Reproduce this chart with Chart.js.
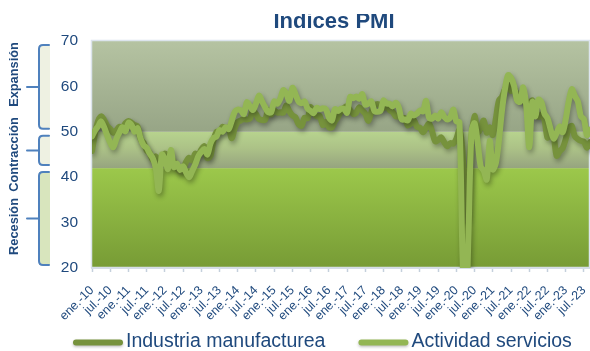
<!DOCTYPE html>
<html lang="es">
<head>
<meta charset="utf-8">
<title>Índices PMI</title>
<script src="https://cdn.jsdelivr.net/npm/chart.js@4.4.1/dist/chart.umd.min.js"></script>
<style>
  html, body { margin: 0; padding: 0; background: #fff; }
  #wrap { width: 590px; height: 351px; position: relative; }
</style>
</head>
<body>
<div id="wrap"><canvas id="pmi"></canvas></div>
<script>
// meses ene.-10 .. sep.-23
const meses = ['ene.', 'feb.', 'mar.', 'abr.', 'may.', 'jun.', 'jul.', 'ago.', 'sep.', 'oct.', 'nov.', 'dic.'];
const anios = [10, 11, 12, 13, 14, 15, 16, 17, 18, 19, 20, 21, 22, 23];
const ultimoMes = 'sep.-23';

const categorias = [];
for (const a of anios) {
  for (const m of meses) categorias.push(m + '-' + a);
}
categorias.length = categorias.indexOf(ultimoMes) + 1;

const industria = [
  45.8, 49.6, 52.4, 53.4, 52.6, 51.3, 50.6, 49.8, 50.3, 51.1, 50.8, 51.9, // 2010
  52.4, 52.0, 51.5, 51.2, 48.4, 47.6, 45.9, 45.3, 43.8, 44.6, 43.5, 43.6, // 2011
  45.2, 44.7, 44.4, 43.3, 42.1, 41.2, 41.8, 43.4, 44.3, 43.7, 45.2, 44.8, // 2012
  46.1, 46.8, 44.2, 44.7, 48.1, 50.0, 49.8, 51.1, 50.7, 50.9, 48.6, 50.8, // 2013
  52.2, 52.5, 52.8, 52.7, 52.9, 54.6, 53.9, 52.8, 52.6, 52.6, 54.7, 53.8, // 2014
  54.7, 54.2, 54.3, 54.2, 55.8, 54.5, 53.6, 53.2, 51.7, 51.3, 53.1, 53.0, // 2015
  55.4, 54.1, 53.4, 53.5, 51.5, 52.2, 51.0, 51.0, 52.3, 53.3, 54.5, 55.3, // 2016
  55.6, 54.8, 53.9, 54.2, 55.4, 54.7, 54.0, 52.4, 54.3, 55.8, 56.1, 55.8, // 2017
  55.2, 56.0, 54.8, 54.4, 53.4, 53.4, 52.9, 53.0, 51.4, 51.8, 52.6, 51.1, // 2018
  50.9, 49.9, 50.9, 51.8, 50.1, 47.9, 48.2, 48.8, 47.7, 46.8, 47.5, 47.4, // 2019
  48.5, 50.4, 45.7, 30.8, 38.3, 49.0, 53.5, 49.9, 50.8, 52.5, 49.8, 51.0, // 2020
  49.3, 52.9, 56.9, 57.7, 59.4, 60.4, 59.0, 59.5, 58.1, 57.4, 57.1, 56.2, // 2021
  56.2, 56.9, 54.2, 53.3, 53.8, 52.6, 48.7, 49.9, 49.0, 44.7, 45.7, 46.4, // 2022
  48.4, 50.7, 51.3, 49.0, 48.4, 48.0, 47.8, 46.5, 47.7                    // 2023
];

const servicios = [
  49.0, 50.3, 51.2, 52.3, 51.0, 49.2, 47.6, 46.6, 48.4, 49.8, 51.0, 50.1, // 2010
  52.0, 51.5, 50.0, 50.8, 48.5, 47.0, 46.5, 45.2, 44.2, 42.0, 37.0, 45.0, // 2011
  44.0, 41.8, 46.0, 42.2, 43.0, 41.6, 42.4, 41.0, 40.0, 41.4, 42.8, 44.6, // 2012
  45.6, 46.2, 45.0, 47.4, 48.6, 49.0, 50.4, 50.0, 51.0, 50.6, 52.4, 54.4, // 2013
  54.9, 54.7, 53.9, 56.5, 55.7, 54.8, 56.2, 58.0, 56.7, 55.4, 54.3, 54.3, // 2014
  56.7, 56.2, 57.3, 59.2, 58.4, 56.8, 59.7, 58.3, 56.7, 56.3, 56.7, 55.1, // 2015
  54.6, 54.1, 55.3, 55.0, 55.2, 55.0, 53.2, 52.5, 55.0, 54.6, 55.1, 55.0, // 2016
  54.2, 57.7, 57.4, 57.8, 57.3, 58.3, 56.0, 56.2, 56.7, 54.6, 54.4, 54.6, // 2017
  56.9, 56.2, 56.2, 55.6, 56.4, 55.4, 52.7, 52.7, 52.5, 54.0, 53.6, 54.0, // 2018
  54.7, 54.5, 56.8, 53.1, 52.9, 53.6, 52.9, 54.3, 53.3, 52.7, 53.2, 54.9, // 2019
  52.3, 52.1, 23.0, 7.1, 27.9, 50.2, 51.9, 47.7, 42.4, 41.4, 39.5, 48.0,  // 2020
  41.7, 43.1, 48.1, 54.6, 59.4, 62.5, 61.9, 60.1, 56.9, 56.6, 59.8, 55.8, // 2021
  46.6, 56.6, 53.4, 57.1, 56.5, 54.0, 53.0, 50.6, 48.5, 49.7, 51.2, 49.9, // 2022
  52.7, 56.7, 59.4, 57.9, 56.7, 53.4, 52.8, 49.3, 50.5                    // 2023
];

// franjas del fondo: recesión, contracción, expansión
const limitesZonas = [20, 42, 50, 70];
const nombresZonas = ['Recesión', 'Contracción', 'Expansión'];

const FUENTE = "'Liberation Sans', Arial, sans-serif";
const AZUL_TEXTO = '#1f497d';

const zonasPlugin = {
  id: 'zonas',
  beforeDraw(chart) {
    const { ctx, chartArea: a, scales: { y } } = chart;
    const degradados = [
      [[0, '#9cc84b'], [1, '#779b35']],
      [[0, '#b7d38e'], [0.45, '#acc287'], [1, '#96a47f']],
      [[0, '#b5c3a2'], [1, '#97a586']]
    ];
    const rellenoLlave = ['#d8e5bd', '#eef1e2', '#eef1e2'];
    const centroTexto = [226.5, 154.5, 74.5];

    ctx.save();
    for (let i = 0; i < nombresZonas.length; i++) {
      const top = y.getPixelForValue(limitesZonas[i + 1]);
      const bottom = y.getPixelForValue(limitesZonas[i]);
      const g = ctx.createLinearGradient(0, top, 0, bottom);
      degradados[i].forEach(([p, c]) => g.addColorStop(p, c));
      ctx.fillStyle = g;
      ctx.fillRect(a.left, top, a.right - a.left, bottom - top);

      // llave a la izquierda del eje
      const t = top + 4, b = bottom - 3, mid = (t + b) / 2;
      const xl = 39, xr = 49, r = 4;
      ctx.fillStyle = rellenoLlave[i];
      ctx.fillRect(xl, t, xr - xl + 1, b - t);
      ctx.beginPath();
      ctx.moveTo(xr, t);
      ctx.lineTo(xl + r, t);
      ctx.quadraticCurveTo(xl, t, xl, t + r);
      ctx.lineTo(xl, b - r);
      ctx.quadraticCurveTo(xl, b, xl + r, b);
      ctx.lineTo(xr, b);
      ctx.moveTo(xl, mid);
      ctx.lineTo(27, mid);
      ctx.strokeStyle = '#4f81bd';
      ctx.lineWidth = 2;
      ctx.lineCap = 'round';
      ctx.stroke();

      ctx.save();
      ctx.translate(14, centroTexto[i]);
      ctx.rotate(-Math.PI / 2);
      ctx.font = 'bold 12.8px ' + FUENTE;
      ctx.fillStyle = AZUL_TEXTO;
      ctx.textAlign = 'center';
      ctx.textBaseline = 'middle';
      ctx.fillText(nombresZonas[i], 0, 0);
      ctx.restore();
    }
    ctx.strokeStyle = '#dce4ed';
    ctx.lineWidth = 1.5;
    ctx.strokeRect(a.left - 0.5, a.top - 0.5, a.right - a.left, a.bottom - a.top);
    ctx.restore();
  }
};

// sombra suave bajo las líneas
const sombraPlugin = {
  id: 'sombra',
  beforeDatasetDraw(chart) {
    const ctx = chart.ctx;
    ctx.save();
    ctx.shadowColor = 'rgba(0, 0, 0, 0.32)';
    ctx.shadowBlur = 5;
    ctx.shadowOffsetX = 1.5;
    ctx.shadowOffsetY = 3;
  },
  afterDatasetDraw(chart) {
    chart.ctx.restore();
  }
};

const tituloPlugin = {
  id: 'titulo',
  afterDraw(chart) {
    const ctx = chart.ctx;
    ctx.save();
    ctx.beginPath();
    ctx.rect(0, 14, chart.width, 26);
    ctx.clip();
    ctx.font = 'bold 22px ' + FUENTE;
    ctx.fillStyle = AZUL_TEXTO;
    ctx.textAlign = 'center';
    ctx.textBaseline = 'alphabetic';
    ctx.fillText('Índices PMI', 334, 28);
    ctx.restore();
  }
};

const leyendaPlugin = {
  id: 'leyenda',
  afterDraw(chart) {
    const ctx = chart.ctx;
    const y = 341.5;
    let x = 73;
    ctx.save();
    ctx.font = '19.5px ' + FUENTE;
    ctx.textBaseline = 'middle';
    chart.data.datasets.forEach(ds => {
      ctx.save();
      ctx.shadowColor = 'rgba(0, 0, 0, 0.25)';
      ctx.shadowBlur = 3;
      ctx.shadowOffsetY = 1.5;
      ctx.strokeStyle = ds.borderColor;
      ctx.lineWidth = 6;
      ctx.lineCap = 'round';
      ctx.beginPath();
      ctx.moveTo(x + 3, y + 1);
      ctx.lineTo(x + 47, y + 1);
      ctx.stroke();
      ctx.restore();
      ctx.fillStyle = AZUL_TEXTO;
      ctx.fillText(ds.label, x + 53, y);
      x += 53 + ctx.measureText(ds.label).width + 33;
    });
    ctx.restore();
  }
};

new Chart(document.getElementById('pmi'), {
  type: 'line',
  data: {
    labels: categorias,
    datasets: [
      {
        label: 'Industria manufacturea',
        data: industria,
        borderColor: '#76923c',
        backgroundColor: '#76923c',
        order: 1,
        clip: 0
      },
      {
        label: 'Actividad servicios',
        data: servicios,
        borderColor: '#93b654',
        backgroundColor: '#93b654',
        order: 0,
        clip: 0
      }
    ]
  },
  options: {
    responsive: true,
    maintainAspectRatio: false,
    animation: false,
    layout: { padding: { top: 41, left: 0, right: 0, bottom: 28 } },
    elements: {
      point: { radius: 0 },
      line: { borderWidth: 6, tension: 0.3, borderCapStyle: 'round', borderJoinStyle: 'round' }
    },
    plugins: {
      legend: { display: false },
      title: { display: false },
      tooltip: { enabled: false }
    },
    scales: {
      x: {
        grid: {
          drawOnChartArea: false,
          tickLength: 4,
          tickWidth: 1.5,
          tickColor: c => (c.index % 6 === 0 ? '#c5d0dc' : 'rgba(0,0,0,0)')
        },
        border: { display: true, color: '#d5dde7', width: 2 },
        ticks: {
          autoSkip: false,
          minRotation: 45,
          maxRotation: 45,
          padding: 11,
          color: AZUL_TEXTO,
          font: { family: FUENTE, size: 12.5 },
          callback: (v, i) => (i % 6 === 0 ? categorias[i] : '')
        },
        afterFit: s => { s.height = 55; s.paddingLeft = 0; s.paddingRight = 0; }
      },
      y: {
        min: 20,
        max: 70,
        grid: { display: false, drawTicks: false },
        border: { display: false },
        ticks: {
          stepSize: 10,
          padding: 14,
          color: AZUL_TEXTO,
          font: { family: FUENTE, size: 15.5 }
        },
        afterFit: s => { s.width = 92; }
      }
    }
  },
  plugins: [zonasPlugin, sombraPlugin, tituloPlugin, leyendaPlugin]
});
</script>
</body>
</html>
